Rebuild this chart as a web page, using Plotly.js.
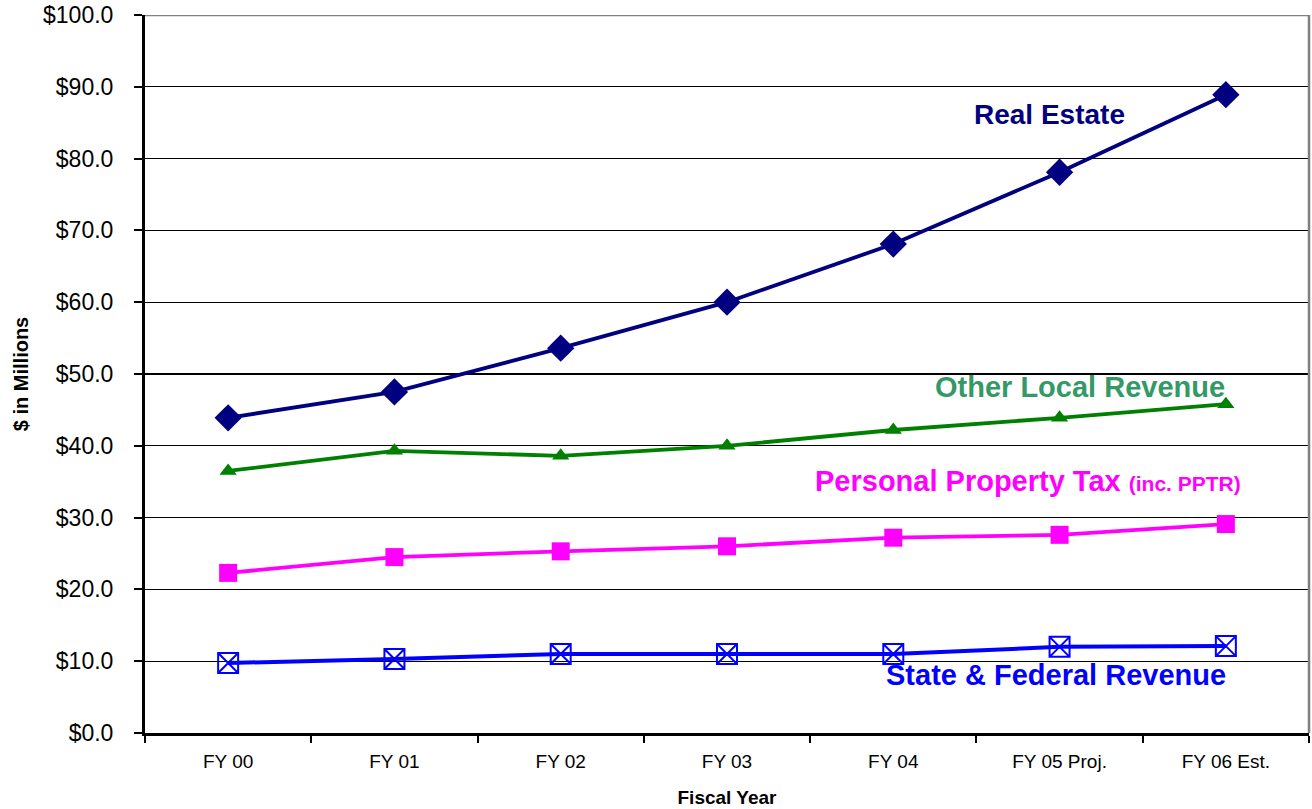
<!DOCTYPE html>
<html><head><meta charset="utf-8">
<script src="https://cdn.plot.ly/plotly-3.0.1.min.js"></script>
<style>body{margin:0;background:#fff}#chart{width:1312px;height:809px}</style>
</head><body><div id="chart"></div>
<script>
const categories = ["FY 00","FY 01","FY 02","FY 03","FY 04","FY 05 Proj.","FY 06 Est."];
const realEstate = [43.9, 47.5, 53.6, 60.0, 68.1, 78.1, 88.9];
const otherLocal = [36.5, 39.3, 38.6, 40.0, 42.2, 43.9, 45.8];
const personalProperty = [22.3, 24.5, 25.3, 26.0, 27.2, 27.6, 29.1];
const stateFederal = [9.75, 10.3, 11.0, 11.0, 11.0, 12.0, 12.1];
const yTicks = [0,10,20,30,40,50,60,70,80,90,100];

const traces = [
  {x: categories, y: stateFederal, mode:'lines+markers', name:'State & Federal Revenue',
   line:{color:'#0000FF', width:4},
   marker:{symbol:'square-x-open', size:20, color:'#0000FF',
           line:{width:2, color:['#008000','#0000FF','#0000FF','#0000FF','#0000FF','#0000FF','#0000FF']}}},
  {x: categories, y: personalProperty, mode:'lines+markers', name:'Personal Property Tax',
   line:{color:'#FF00FF', width:3.8}, marker:{symbol:'square', size:18, color:'#FF00FF'}},
  {x: categories, y: otherLocal, mode:'lines+markers', name:'Other Local Revenue',
   line:{color:'#008000', width:3.8}, marker:{symbol:'triangle-up', size:15, color:'#008000'}},
  {x: categories, y: realEstate, mode:'lines+markers', name:'Real Estate',
   line:{color:'#000080', width:3.8}, marker:{symbol:'diamond', size:21, color:'#000080'}}
];

const layout = {
  width:1312, height:809,
  margin:{l:145, r:3, t:15, b:76},
  paper_bgcolor:'#fff', plot_bgcolor:'#fff',
  showlegend:false,
  font:{family:'Liberation Sans, Arial, sans-serif', color:'#000'},
  xaxis:{type:'category', range:[-0.5,6.5], tickson:'boundaries', ticks:'outside', ticklen:7, tickwidth:2, tickcolor:'#000',
         showline:true, linecolor:'#000', linewidth:3, showgrid:false, zeroline:false,
         tickfont:{size:19, color:'#000'}, ticklabelstandoff:9,
         title:{text:'<b>Fiscal Year</b>', font:{size:19, color:'#000'}, standoff:20}},
  yaxis:{range:[0,100], tickvals:yTicks, ticktext:yTicks.map(v=>'$'+v.toFixed(1)),
         ticks:'outside', ticklen:8, tickwidth:2, tickcolor:'#000',
         showline:true, linecolor:'#000', linewidth:3, showgrid:true, gridcolor:'#000', gridwidth:1.2, zeroline:false,
         tickfont:{size:23, color:'#000'}, ticklabelstandoff:16,
         title:{text:'<b>$ in Millions</b>', font:{size:20, color:'#000'}, standoff:10}},
  shapes:[
    {type:'line', xref:'paper', yref:'y', x0:0, x1:1, y0:100, y1:100, line:{color:'#808080', width:2.5}},
    {type:'line', xref:'paper', yref:'y', x0:1, x1:1, y0:0, y1:100, line:{color:'#808080', width:2.5}}
  ],
  annotations:[
    {xref:'x', yref:'y', x:4.94, y:86.1, text:'<b>Real Estate</b>', showarrow:false, font:{size:28, color:'#000080'}},
    {xref:'x', yref:'y', x:5.12, y:48.2, text:'<b>Other Local Revenue</b>', showarrow:false, font:{size:29, color:'#339966'}},
    {xref:'x', yref:'y', x:4.81, y:35.1, text:'<b>Personal Property Tax <span style="font-size:21px">(inc. PPTR)</span></b>', showarrow:false, font:{size:29, color:'#FF00FF'}},
    {xref:'x', yref:'y', x:4.98, y:8.1, text:'<b>State & Federal Revenue</b>', showarrow:false, font:{size:29, color:'#0000FF'}}
  ]
};
Plotly.newPlot('chart', traces, layout, {displayModeBar:false, staticPlot:true});
</script></body></html>
